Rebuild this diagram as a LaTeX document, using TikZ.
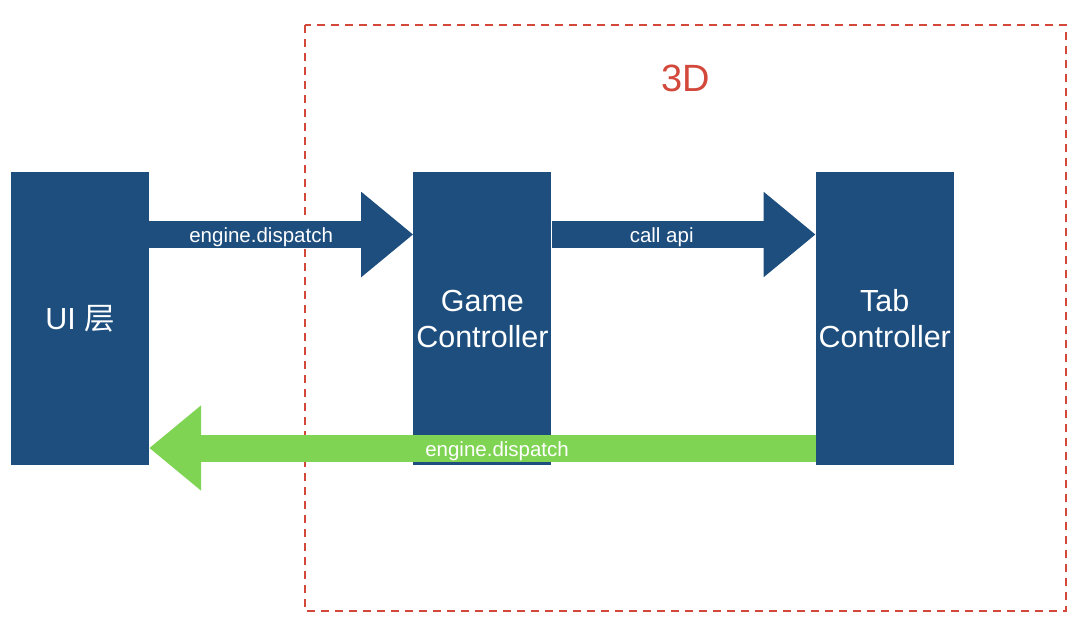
\documentclass[tikz,border=0pt]{standalone}
\usepackage{fontspec}
\setmainfont{Liberation Sans}
\newfontfamily\cjk{Noto Sans CJK SC}
\usetikzlibrary{arrows.meta,positioning}

\definecolor{boxblue}{HTML}{1D4E7E}
\definecolor{backgreen}{HTML}{7FD454}
\definecolor{framered}{HTML}{D2483A}

\begin{document}
\begin{tikzpicture}[
    x=1pt, y=-1pt,
    block/.style={fill=boxblue, text=white, align=center, minimum width=138pt, minimum height=293pt, inner sep=0pt, font=\fontsize{30.5}{36}\selectfont},
    fatarr/.style={line width=27pt, line cap=butt, -{Triangle[length=52pt, width=82pt]}},
    lbl/.style={text=white, yshift=-3pt, font=\fontsize{20.5}{24}\selectfont},
]
\useasboundingbox (0,0) rectangle (1080,641);

% 3D area
\draw[framered, line width=1.3pt, dash pattern=on 8pt off 6pt] (305,25) rectangle (1066,611);
\node[text=framered, font=\fontsize{38}{40}\selectfont] (title) at (685.5,78) {3D};

\node[block] (ui) at (80,318.5) {UI {\cjk 层}};
\node[block, right=264pt of ui] (game) {Game\\Controller};
\node[block, right=264pt of game] (tab) {Tab\\Controller};

\draw[fatarr, boxblue] ([yshift=84pt]ui.east) -- node[lbl, pos=0.424] {engine.dispatch} ([yshift=84pt]game.west);
\draw[fatarr, boxblue] ([yshift=84pt]game.east) -- node[lbl, pos=0.417] {call api} ([yshift=84pt]tab.west);
\draw[fatarr, backgreen] ([yshift=-129.5pt]tab.west) -- node[lbl, pos=0.478] {engine.dispatch} ([yshift=-129.5pt]ui.east);
\end{tikzpicture}
\end{document}
